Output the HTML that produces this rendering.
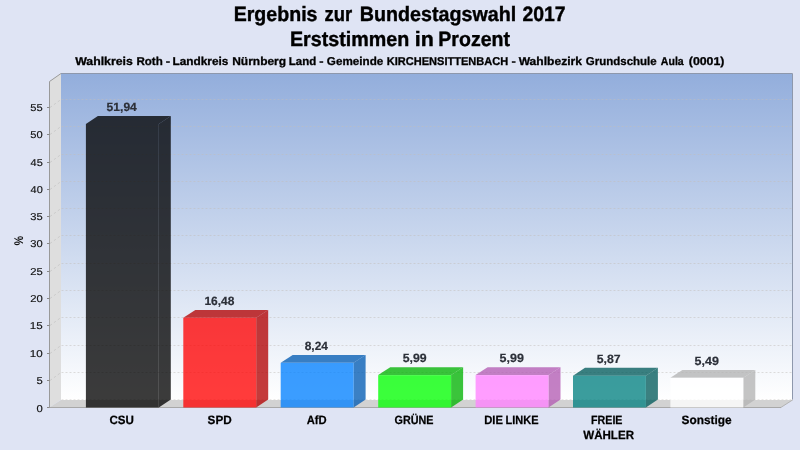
<!DOCTYPE html>
<html><head><meta charset="utf-8"><title>Ergebnis zur Bundestagswahl 2017</title>
<style>html,body{margin:0;padding:0;background:#dfe4f4;}body{width:800px;height:450px;overflow:hidden;font-family:"Liberation Sans",sans-serif;}svg{display:block;will-change:transform}text{font-family:"Liberation Sans",sans-serif;text-rendering:geometricPrecision;}</style></head><body>
<svg width="800" height="450" viewBox="0 0 800 450">
<defs><linearGradient id="bw" x1="0" y1="0" x2="0" y2="1"><stop offset="0" stop-color="#93aedc"/><stop offset="1" stop-color="#ffffff"/></linearGradient></defs>
<rect width="800" height="450" fill="#dfe4f4"/>
<rect x="61.0" y="74.0" width="731.0" height="326.0" fill="url(#bw)"/>
<polygon points="49.5,81.6 61,73.6 61,399.5 49.5,407.5" fill="#dedede"/>
<polygon points="49.5,407.5 61,400 793,400 780.6,407.5" fill="#d2d2d2"/>
<line x1="61.5" y1="399.5" x2="792.0" y2="399.5" stroke="#c2bebb" stroke-width="1" stroke-dasharray="2,2" opacity="0.35"/>
<line x1="61.5" y1="372.5" x2="792.0" y2="372.5" stroke="#c2bebb" stroke-width="1" stroke-dasharray="2,2" opacity="0.5"/>
<line x1="50.0" y1="380.5" x2="61.0" y2="372.5" stroke="#bdbdbd" stroke-width="1" stroke-dasharray="2.4,2.4" opacity="0.6"/>
<line x1="61.5" y1="345.5" x2="792.0" y2="345.5" stroke="#c2bebb" stroke-width="1" stroke-dasharray="2,2" opacity="0.5"/>
<line x1="50.0" y1="353.5" x2="61.0" y2="345.5" stroke="#bdbdbd" stroke-width="1" stroke-dasharray="2.4,2.4" opacity="0.6"/>
<line x1="61.5" y1="317.5" x2="792.0" y2="317.5" stroke="#c2bebb" stroke-width="1" stroke-dasharray="2,2" opacity="0.5"/>
<line x1="50.0" y1="325.5" x2="61.0" y2="317.5" stroke="#bdbdbd" stroke-width="1" stroke-dasharray="2.4,2.4" opacity="0.6"/>
<line x1="61.5" y1="290.5" x2="792.0" y2="290.5" stroke="#c2bebb" stroke-width="1" stroke-dasharray="2,2" opacity="0.5"/>
<line x1="50.0" y1="298.5" x2="61.0" y2="290.5" stroke="#bdbdbd" stroke-width="1" stroke-dasharray="2.4,2.4" opacity="0.6"/>
<line x1="61.5" y1="263.5" x2="792.0" y2="263.5" stroke="#c2bebb" stroke-width="1" stroke-dasharray="2,2" opacity="0.5"/>
<line x1="50.0" y1="271.5" x2="61.0" y2="263.5" stroke="#bdbdbd" stroke-width="1" stroke-dasharray="2.4,2.4" opacity="0.6"/>
<line x1="61.5" y1="235.5" x2="792.0" y2="235.5" stroke="#c2bebb" stroke-width="1" stroke-dasharray="2,2" opacity="0.5"/>
<line x1="50.0" y1="243.5" x2="61.0" y2="235.5" stroke="#bdbdbd" stroke-width="1" stroke-dasharray="2.4,2.4" opacity="0.6"/>
<line x1="61.5" y1="208.5" x2="792.0" y2="208.5" stroke="#c2bebb" stroke-width="1" stroke-dasharray="2,2" opacity="0.5"/>
<line x1="50.0" y1="216.5" x2="61.0" y2="208.5" stroke="#bdbdbd" stroke-width="1" stroke-dasharray="2.4,2.4" opacity="0.6"/>
<line x1="61.5" y1="181.5" x2="792.0" y2="181.5" stroke="#c2bebb" stroke-width="1" stroke-dasharray="2,2" opacity="0.5"/>
<line x1="50.0" y1="189.5" x2="61.0" y2="181.5" stroke="#bdbdbd" stroke-width="1" stroke-dasharray="2.4,2.4" opacity="0.6"/>
<line x1="61.5" y1="154.5" x2="792.0" y2="154.5" stroke="#c2bebb" stroke-width="1" stroke-dasharray="2,2" opacity="0.5"/>
<line x1="50.0" y1="162.5" x2="61.0" y2="154.5" stroke="#bdbdbd" stroke-width="1" stroke-dasharray="2.4,2.4" opacity="0.6"/>
<line x1="61.5" y1="126.5" x2="792.0" y2="126.5" stroke="#c2bebb" stroke-width="1" stroke-dasharray="2,2" opacity="0.5"/>
<line x1="50.0" y1="134.5" x2="61.0" y2="126.5" stroke="#bdbdbd" stroke-width="1" stroke-dasharray="2.4,2.4" opacity="0.6"/>
<line x1="61.5" y1="99.5" x2="792.0" y2="99.5" stroke="#c2bebb" stroke-width="1" stroke-dasharray="2,2" opacity="0.5"/>
<line x1="50.0" y1="107.5" x2="61.0" y2="99.5" stroke="#bdbdbd" stroke-width="1" stroke-dasharray="2.4,2.4" opacity="0.6"/>
<polyline points="61,73.5 792.5,73.5 792.5,399.5" fill="none" stroke="#8e98ac" stroke-width="1"/><line x1="49.5" y1="81.5" x2="61" y2="73.5" stroke="#9a9a9a"/>
<line x1="792.8" y1="399.8" x2="780.8" y2="407.5" stroke="#b4b4b4"/>
<line x1="49.5" y1="81.5" x2="49.5" y2="408" stroke="#999" stroke-width="1"/>
<line x1="47" y1="407.5" x2="781" y2="407.5" stroke="#a8a8a8" stroke-width="1"/>
<line x1="47.0" y1="407.5" x2="49.5" y2="407.5" stroke="#888" stroke-width="1"/>
<text x="36.55" y="411.6" font-size="10"  fill="#111" textLength="6.26" lengthAdjust="spacingAndGlyphs" stroke="#111" stroke-width="0.15">0</text>
<line x1="47.0" y1="380.5" x2="49.5" y2="380.5" stroke="#888" stroke-width="1"/>
<text x="36.55" y="384.0" font-size="10"  fill="#111" textLength="6.26" lengthAdjust="spacingAndGlyphs" stroke="#111" stroke-width="0.15">5</text>
<line x1="47.0" y1="353.5" x2="49.5" y2="353.5" stroke="#888" stroke-width="1"/>
<text x="29.87" y="357.0" font-size="10"  fill="#111" textLength="12.90" lengthAdjust="spacingAndGlyphs" stroke="#111" stroke-width="0.15">10</text>
<line x1="47.0" y1="325.5" x2="49.5" y2="325.5" stroke="#888" stroke-width="1"/>
<text x="29.87" y="329.0" font-size="10"  fill="#111" textLength="12.90" lengthAdjust="spacingAndGlyphs" stroke="#111" stroke-width="0.15">15</text>
<line x1="47.0" y1="298.5" x2="49.5" y2="298.5" stroke="#888" stroke-width="1"/>
<text x="30.24" y="302.0" font-size="10"  fill="#111" textLength="12.53" lengthAdjust="spacingAndGlyphs" stroke="#111" stroke-width="0.15">20</text>
<line x1="47.0" y1="271.5" x2="49.5" y2="271.5" stroke="#888" stroke-width="1"/>
<text x="30.24" y="275.0" font-size="10"  fill="#111" textLength="12.53" lengthAdjust="spacingAndGlyphs" stroke="#111" stroke-width="0.15">25</text>
<line x1="47.0" y1="243.5" x2="49.5" y2="243.5" stroke="#888" stroke-width="1"/>
<text x="30.35" y="247.0" font-size="10"  fill="#111" textLength="12.41" lengthAdjust="spacingAndGlyphs" stroke="#111" stroke-width="0.15">30</text>
<line x1="47.0" y1="216.5" x2="49.5" y2="216.5" stroke="#888" stroke-width="1"/>
<text x="30.35" y="220.0" font-size="10"  fill="#111" textLength="12.41" lengthAdjust="spacingAndGlyphs" stroke="#111" stroke-width="0.15">35</text>
<line x1="47.0" y1="189.5" x2="49.5" y2="189.5" stroke="#888" stroke-width="1"/>
<text x="30.58" y="193.0" font-size="10"  fill="#111" textLength="12.17" lengthAdjust="spacingAndGlyphs" stroke="#111" stroke-width="0.15">40</text>
<line x1="47.0" y1="162.5" x2="49.5" y2="162.5" stroke="#888" stroke-width="1"/>
<text x="30.58" y="166.0" font-size="10"  fill="#111" textLength="12.17" lengthAdjust="spacingAndGlyphs" stroke="#111" stroke-width="0.15">45</text>
<line x1="47.0" y1="134.5" x2="49.5" y2="134.5" stroke="#888" stroke-width="1"/>
<text x="30.35" y="138.0" font-size="10"  fill="#111" textLength="12.41" lengthAdjust="spacingAndGlyphs" stroke="#111" stroke-width="0.15">50</text>
<line x1="47.0" y1="107.5" x2="49.5" y2="107.5" stroke="#888" stroke-width="1"/>
<text x="30.35" y="111.0" font-size="10"  fill="#111" textLength="12.41" lengthAdjust="spacingAndGlyphs" stroke="#111" stroke-width="0.15">55</text>
<text transform="translate(23.2,240.6) rotate(-90)" x="-4.8" font-size="12.6" font-weight="bold" fill="#111" textLength="9.6" lengthAdjust="spacingAndGlyphs">%</text>
<polygon points="158.8,124.0 170.8,116.1 170.8,399.6 158.8,407.5" fill="rgb(0,0,0)" fill-opacity="0.77"/>
<polygon points="85.9,124.0 97.9,116.1 170.8,116.1 158.8,124.0" fill="rgb(0,0,0)" fill-opacity="0.77"/>
<rect x="85.9" y="124.0" width="72.9" height="283.5" fill="rgb(0,0,0)" fill-opacity="0.77"/>
<text x="106.60" y="110.8" font-size="12" font-weight="bold" fill="#2c3039" textLength="30.23" lengthAdjust="spacingAndGlyphs" stroke="#2c3039" stroke-width="0.2">51,94</text>
<polygon points="256.2,317.8 268.2,309.9 268.2,399.6 256.2,407.5" fill="rgb(178,0,0)" fill-opacity="0.77"/>
<polygon points="183.3,317.8 195.3,309.9 268.2,309.9 256.2,317.8" fill="rgb(178,0,0)" fill-opacity="0.77"/>
<rect x="183.3" y="317.8" width="72.9" height="89.7" fill="rgb(255,0,0)" fill-opacity="0.77"/>
<text x="204.40" y="304.6" font-size="12" font-weight="bold" fill="#2c3039" textLength="29.92" lengthAdjust="spacingAndGlyphs" stroke="#2c3039" stroke-width="0.2">16,48</text>
<polygon points="353.6,362.8 365.6,354.9 365.6,399.6 353.6,407.5" fill="rgb(0,90,178)" fill-opacity="0.77"/>
<polygon points="280.7,362.8 292.7,354.9 365.6,354.9 353.6,362.8" fill="rgb(0,90,178)" fill-opacity="0.77"/>
<rect x="280.7" y="362.8" width="72.9" height="44.7" fill="rgb(0,128,255)" fill-opacity="0.77"/>
<text x="304.70" y="349.6" font-size="12" font-weight="bold" fill="#2c3039" textLength="23.25" lengthAdjust="spacingAndGlyphs" stroke="#2c3039" stroke-width="0.2">8,24</text>
<polygon points="451.1,375.1 463.1,367.2 463.1,399.6 451.1,407.5" fill="rgb(0,178,0)" fill-opacity="0.77"/>
<polygon points="378.2,375.1 390.2,367.2 463.1,367.2 451.1,375.1" fill="rgb(0,178,0)" fill-opacity="0.77"/>
<rect x="378.2" y="375.1" width="72.9" height="32.4" fill="rgb(0,255,0)" fill-opacity="0.77"/>
<text x="402.69" y="361.9" font-size="12" font-weight="bold" fill="#2c3039" textLength="23.93" lengthAdjust="spacingAndGlyphs" stroke="#2c3039" stroke-width="0.2">5,99</text>
<polygon points="548.5,375.1 560.5,367.2 560.5,399.6 548.5,407.5" fill="rgb(178,90,178)" fill-opacity="0.77"/>
<polygon points="475.6,375.1 487.6,367.2 560.5,367.2 548.5,375.1" fill="rgb(178,90,178)" fill-opacity="0.77"/>
<rect x="475.6" y="375.1" width="72.9" height="32.4" fill="rgb(255,128,255)" fill-opacity="0.77"/>
<text x="499.58" y="361.9" font-size="12" font-weight="bold" fill="#2c3039" textLength="24.29" lengthAdjust="spacingAndGlyphs" stroke="#2c3039" stroke-width="0.2">5,99</text>
<polygon points="645.9,375.7 657.9,367.8 657.9,399.6 645.9,407.5" fill="rgb(0,90,90)" fill-opacity="0.77"/>
<polygon points="573.0,375.7 585.0,367.8 657.9,367.8 645.9,375.7" fill="rgb(0,90,90)" fill-opacity="0.77"/>
<rect x="573.0" y="375.7" width="72.9" height="31.8" fill="rgb(0,128,128)" fill-opacity="0.77"/>
<text x="596.69" y="362.5" font-size="12" font-weight="bold" fill="#2c3039" textLength="23.87" lengthAdjust="spacingAndGlyphs" stroke="#2c3039" stroke-width="0.2">5,87</text>
<polygon points="743.3,377.8 755.3,369.9 755.3,399.6 743.3,407.5" fill="rgb(178,178,178)" fill-opacity="0.77"/>
<polygon points="670.4,377.8 682.4,369.9 755.3,369.9 743.3,377.8" fill="rgb(178,178,178)" fill-opacity="0.77"/>
<rect x="670.4" y="377.8" width="72.9" height="29.7" fill="rgb(255,255,255)" fill-opacity="0.77"/>
<text x="694.58" y="364.6" font-size="12" font-weight="bold" fill="#2c3039" textLength="24.29" lengthAdjust="spacingAndGlyphs" stroke="#2c3039" stroke-width="0.2">5,49</text>
<text x="109.52" y="423.6" font-size="12" font-weight="bold" fill="#000" textLength="24.44" lengthAdjust="spacingAndGlyphs" stroke="#000" stroke-width="0.25">CSU</text>
<text x="207.61" y="423.6" font-size="12" font-weight="bold" fill="#000" textLength="24.10" lengthAdjust="spacingAndGlyphs" stroke="#000" stroke-width="0.25">SPD</text>
<text x="306.72" y="423.6" font-size="12" font-weight="bold" fill="#000" textLength="19.93" lengthAdjust="spacingAndGlyphs" stroke="#000" stroke-width="0.25">AfD</text>
<text x="394.55" y="423.6" font-size="12" font-weight="bold" fill="#000" textLength="38.93" lengthAdjust="spacingAndGlyphs" stroke="#000" stroke-width="0.25">GRÜNE</text>
<text x="484.25" y="423.6" font-size="12" font-weight="bold" fill="#000" textLength="18.72" lengthAdjust="spacingAndGlyphs" stroke="#000" stroke-width="0.25">DIE</text>
<text x="505.52" y="423.6" font-size="12" font-weight="bold" fill="#000" textLength="32.94" lengthAdjust="spacingAndGlyphs" stroke="#000" stroke-width="0.25">LINKE</text>
<text x="591.04" y="423.6" font-size="12" font-weight="bold" fill="#000" textLength="31.44" lengthAdjust="spacingAndGlyphs" stroke="#000" stroke-width="0.25">FREIE</text>
<text x="681.50" y="423.6" font-size="12" font-weight="bold" fill="#000" textLength="50.11" lengthAdjust="spacingAndGlyphs" stroke="#000" stroke-width="0.25">Sonstige</text>
<text x="583.25" y="438.6" font-size="12" font-weight="bold" fill="#000" textLength="50.75" lengthAdjust="spacingAndGlyphs" stroke="#000" stroke-width="0.25">WÄHLER</text>
<text x="233.68" y="20.5" font-size="20.7" font-weight="bold" fill="#000" textLength="83.80" lengthAdjust="spacingAndGlyphs" stroke="#000" stroke-width="0.4">Ergebnis</text>
<text x="324.54" y="20.5" font-size="20.7" font-weight="bold" fill="#000" textLength="27.63" lengthAdjust="spacingAndGlyphs" stroke="#000" stroke-width="0.4">zur</text>
<text x="359.72" y="20.5" font-size="20.7" font-weight="bold" fill="#000" textLength="156.44" lengthAdjust="spacingAndGlyphs" stroke="#000" stroke-width="0.4">Bundestagswahl</text>
<text x="522.49" y="20.5" font-size="20.7" font-weight="bold" fill="#000" textLength="43.15" lengthAdjust="spacingAndGlyphs" stroke="#000" stroke-width="0.4">2017</text>
<text x="289.92" y="45.5" font-size="20.7" font-weight="bold" fill="#000" textLength="119.37" lengthAdjust="spacingAndGlyphs" stroke="#000" stroke-width="0.4">Erststimmen</text>
<text x="414.81" y="45.5" font-size="20.7" font-weight="bold" fill="#000" textLength="18.98" lengthAdjust="spacingAndGlyphs" stroke="#000" stroke-width="0.4">in</text>
<text x="438.33" y="45.5" font-size="20.7" font-weight="bold" fill="#000" textLength="71.62" lengthAdjust="spacingAndGlyphs" stroke="#000" stroke-width="0.4">Prozent</text>
<text x="75.15" y="64.6" font-size="11.4" font-weight="bold" fill="#000" textLength="57.67" lengthAdjust="spacingAndGlyphs" stroke="#000" stroke-width="0.3">Wahlkreis</text>
<text x="136.44" y="64.6" font-size="11.4" font-weight="bold" fill="#000" textLength="26.28" lengthAdjust="spacingAndGlyphs" stroke="#000" stroke-width="0.3">Roth</text>
<text x="165.69" y="64.6" font-size="11.4" font-weight="bold" fill="#000" textLength="4.37" lengthAdjust="spacingAndGlyphs" stroke="#000" stroke-width="0.3">-</text>
<text x="172.42" y="64.6" font-size="11.4" font-weight="bold" fill="#000" textLength="56.01" lengthAdjust="spacingAndGlyphs" stroke="#000" stroke-width="0.3">Landkreis</text>
<text x="232.21" y="64.6" font-size="11.4" font-weight="bold" fill="#000" textLength="53.88" lengthAdjust="spacingAndGlyphs" stroke="#000" stroke-width="0.3">Nürnberg</text>
<text x="288.74" y="64.6" font-size="11.4" font-weight="bold" fill="#000" textLength="27.44" lengthAdjust="spacingAndGlyphs" stroke="#000" stroke-width="0.3">Land</text>
<text x="319.30" y="64.6" font-size="11.4" font-weight="bold" fill="#000" textLength="4.30" lengthAdjust="spacingAndGlyphs" stroke="#000" stroke-width="0.3">-</text>
<text x="326.89" y="64.6" font-size="11.4" font-weight="bold" fill="#000" textLength="56.39" lengthAdjust="spacingAndGlyphs" stroke="#000" stroke-width="0.3">Gemeinde</text>
<text x="386.78" y="64.6" font-size="11.4" font-weight="bold" fill="#000" textLength="121.45" lengthAdjust="spacingAndGlyphs" stroke="#000" stroke-width="0.3">KIRCHENSITTENBACH</text>
<text x="511.40" y="64.6" font-size="11.4" font-weight="bold" fill="#000" textLength="4.30" lengthAdjust="spacingAndGlyphs" stroke="#000" stroke-width="0.3">-</text>
<text x="518.65" y="64.6" font-size="11.4" font-weight="bold" fill="#000" textLength="63.36" lengthAdjust="spacingAndGlyphs" stroke="#000" stroke-width="0.3">Wahlbezirk</text>
<text x="585.85" y="64.6" font-size="11.4" font-weight="bold" fill="#000" textLength="70.82" lengthAdjust="spacingAndGlyphs" stroke="#000" stroke-width="0.3">Grundschule</text>
<text x="660.87" y="64.6" font-size="11.4" font-weight="bold" fill="#000" textLength="22.89" lengthAdjust="spacingAndGlyphs" stroke="#000" stroke-width="0.3">Aula</text>
<text x="688.80" y="64.6" font-size="11.4" font-weight="bold" fill="#000" textLength="35.65" lengthAdjust="spacingAndGlyphs" stroke="#000" stroke-width="0.3">(0001)</text>
</svg></body></html>
